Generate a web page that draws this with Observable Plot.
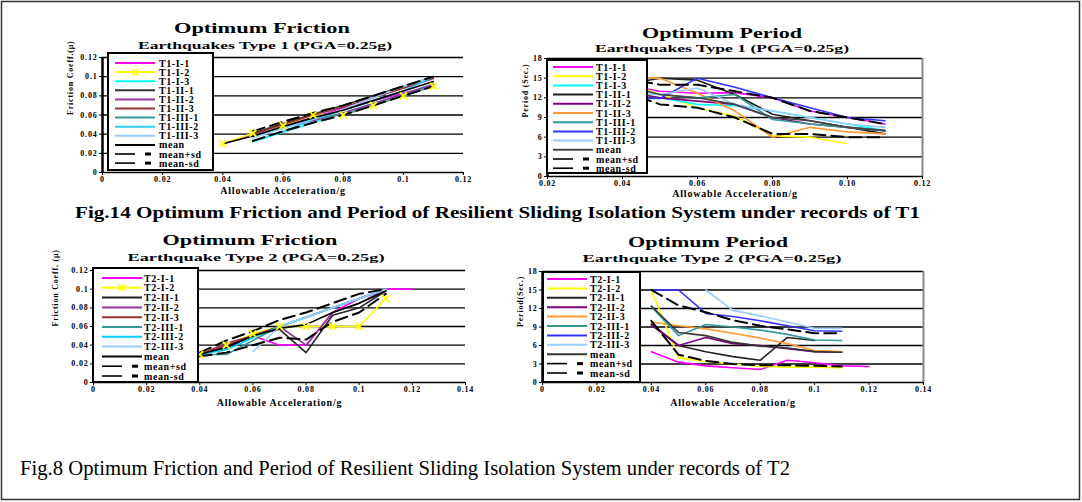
<!DOCTYPE html>
<html><head><meta charset="utf-8">
<script src="https://cdn.jsdelivr.net/npm/d3@7"></script>
<script src="https://cdn.jsdelivr.net/npm/@observablehq/plot@0.6"></script>
<style>
body{margin:0;background:#fff;}
#fig{position:relative;width:1082px;height:502px;background:#fff;overflow:hidden;}
#fig svg{position:absolute;}
</style></head>
<body><div id="fig"></div>
<script>
// ---------- data ----------
const accelT1 = [0.04,0.05,0.06,0.07,0.08,0.09,0.10,0.11];
const accelT2 = [0.04,0.05,0.06,0.07,0.08,0.09,0.10,0.11,0.12];

const t1Names = ["T1-I-1","T1-I-2","T1-I-3","T1-II-1","T1-II-2","T1-II-3","T1-III-1","T1-III-2","T1-III-3","mean","mean+sd","mean-sd"];
const t2Names = ["T2-I-1","T2-I-2","T2-II-1","T2-II-2","T2-II-3","T2-III-1","T2-III-2","T2-III-3","mean","mean+sd","mean-sd"];

const t1FrictionColors = ["#ff00ff","#ffff00","#00ffff","#333333","#993399","#993333","#339999","#33ccff","#99ccff","#000000","#000000","#000000"];
const t1PeriodColors   = ["#ff00ff","#ffff00","#00ffff","#222222","#800080","#ff9933","#339999","#3333ff","#99ccff","#444444","#000000","#000000"];
const t2FrictionColors = ["#ff00ff","#ffff00","#222222","#993399","#993333","#339999","#00ccff","#99ccff","#000000","#000000","#000000"];
const t2PeriodColors   = ["#ff00ff","#ffff00","#222222","#800080","#ff9933","#339999","#3333ff","#99ccff","#333333","#000000","#000000"];

const t1FrictionVals = [
  [0.030,0.040,0.050,0.057,0.067,0.075,0.083,0.090],
  [0.030,0.041,0.049,0.060,0.060,0.070,0.080,0.090],
  [null ,0.032,0.042,0.052,0.062,0.072,0.082,0.092],
  [null ,0.041,0.051,0.061,0.070,0.080,0.090,0.100],
  [null ,0.038,0.047,0.054,0.062,0.072,0.082,0.092],
  [null ,0.040,0.050,0.060,0.068,0.078,0.088,0.098],
  [null ,0.037,0.047,0.057,0.060,0.070,0.080,0.090],
  [null ,0.033,0.043,0.055,0.065,0.075,0.085,0.100],
  [null ,0.036,0.046,0.056,0.066,0.078,0.090,0.100],
  [0.030,0.038,0.048,0.057,0.065,0.075,0.085,0.095],
  [null ,0.043,0.053,0.062,0.070,0.080,0.090,0.100],
  [null ,0.033,0.043,0.052,0.060,0.070,0.080,0.090]
];
const t1PeriodVals = [
  [14,13,12.7,12.8,12,10,9,8],
  [14.5,12.5,10.5,9.2,6.2,6,5,null],
  [13,12,11,10.8,10,9,8,7],
  [14,15,14.7,12.5,9.5,8.5,7.5,6.5],
  [13,12,11.5,11,9,8,7.5,7],
  [15,15,12.7,10,6,7.5,6.8,6.5],
  [13,12.5,12,12.5,8.7,8,7.5,7],
  [12,11.9,15,13.6,12,10.5,9,8.5],
  [13,12.5,13.5,11,10,9,8,7.5],
  [14,12.5,12,11,9,8.5,7.5,7],
  [15,14,14,13,12,10,9,8],
  [13,11,10.5,9,6.5,6.5,6,6]
];
const t2FrictionVals = [
  [0.030,0.040,0.050,0.040,0.040,0.075,0.090,0.100,0.100],
  [0.030,0.040,0.052,0.060,0.060,0.060,0.060,0.090,null],
  [0.030,0.037,0.050,0.057,0.032,0.072,0.080,0.098,null],
  [0.030,0.040,0.050,0.060,0.040,0.075,0.085,0.100,null],
  [0.030,0.042,0.050,0.060,0.070,0.080,0.090,0.100,null],
  [0.030,0.030,0.045,0.060,0.070,0.080,0.090,0.100,null],
  [0.030,0.035,0.048,0.060,0.070,0.080,0.090,0.100,null],
  [null ,null ,0.033,0.060,0.070,0.080,0.090,0.100,null],
  [0.030,0.038,0.050,0.058,0.062,0.075,0.085,0.098,null],
  [0.032,0.045,0.055,0.067,0.075,0.085,0.095,0.100,null],
  [0.028,0.032,0.040,0.048,0.046,0.065,0.075,0.095,null]
];
const t2PeriodVals = [
  [5,3.3,2.7,2.4,2.1,3.6,3.2,2.7,2.6],
  [15,4,3.4,3,2.6,2.5,2.5,2.4,null],
  [9.5,6,5,4.2,3.6,7.3,6.8,null,null],
  [9.3,6,7.3,6.3,6,5.5,5,4.9,null],
  [9.8,9.2,8.7,8,7.2,6.3,5.2,5,null],
  [12.3,7.6,9.4,9,8.5,7.8,6.9,6.8,null],
  [15,15,11.2,10.7,10,9.2,8.4,8.3,null],
  [null,null,15,11.7,10.8,9.8,8.8,8.8,null],
  [12.4,8.1,7.6,6.5,5.9,5.6,5,4.9,null],
  [15,12.5,11.4,10.1,9.2,8.6,8,8,null],
  [10,4.5,3.5,3,2.8,2.8,2.7,2.6,null]
];

const frictionTicks = [0,0.02,0.04,0.06,0.08,0.10,0.12];
const periodTicks = [0,3,6,9,12,15,18];
const accelTicksT1F = [0,0.02,0.04,0.06,0.08,0.10,0.12];
const accelTicksT1P = [0.02,0.04,0.06,0.08,0.10,0.12];
const accelTicksT2 = [0,0.02,0.04,0.06,0.08,0.10,0.12,0.14];

const xTitle = "Allowable Acceleration/g";
const captionT1 = "Fig.14 Optimum Friction and Period of Resilient Sliding Isolation System under records of T1";
const captionT2 = "Fig.8 Optimum Friction and Period of Resilient Sliding Isolation System under records of T2";

// ---------- helpers ----------
const FONT = "'Liberation Serif', 'Times New Roman', serif";
const gen = d => d === 0 ? "0" : String(+d.toFixed(2));
const fix2 = d => d.toFixed(2);
const isDash = n => n.startsWith("mean+") || n.startsWith("mean-");

function makeChart(c) {
  const rows = [];
  c.names.forEach((name, i) => c.values[i].forEach((v, j) => {
    if (v != null) rows.push({x: c.xs[j], y: v, series: name, idx: i});
  }));
  const marks = [
    Plot.ruleY(c.yTicks.filter(t => t > c.yDomain[0]), {stroke: "#000", strokeWidth: 1.3})
  ];
  if (c.rightBorder) marks.push(Plot.ruleX([c.xDomain[1]], {stroke: "#888", strokeWidth: 2}));
  c.names.forEach((name, i) => {
    marks.push(Plot.line(rows.filter(d => d.idx === i), {
      x: "x", y: "y", stroke: c.colors[i],
      strokeWidth: isDash(name) ? 2 : 1.6,
      strokeDasharray: isDash(name) ? "12,6" : null
    }));
  });
  if (c.markerIdx != null) {
    marks.push(Plot.dot(rows.filter(d => d.idx === c.markerIdx), {
      x: "x", y: "y", symbol: "times", r: 3.2, stroke: c.colors[c.markerIdx], strokeWidth: 2
    }));
  }
  marks.push(Plot.ruleX([c.xDomain[0]], {stroke: "#000", strokeWidth: 2.5}));
  marks.push(Plot.ruleY([c.yDomain[0]], {stroke: "#000", strokeWidth: 1.6}));
  marks.push(Plot.text([xTitle], {frameAnchor: "bottom", dy: c.xTitleDy, text: d => d, fontSize: 10, fontWeight: "bold"}));
  marks.push(Plot.text([c.yTitle], {frameAnchor: "left", dx: c.yTitleDx, rotate: -90, text: d => d, fontSize: 8, fontWeight: "bold"}));
  const svg = Plot.plot({
    width: c.width, height: c.height,
    marginLeft: c.ml, marginRight: c.mr, marginTop: c.mt, marginBottom: c.mb,
    style: {fontFamily: FONT, fontWeight: "bold", fontSize: "8px", color: "#000", background: "transparent", letterSpacing: "0.8px", overflow: "visible"},
    x: {domain: c.xDomain, ticks: c.xTicks, tickFormat: c.xFmt, tickSize: 3, tickPadding: 1, label: null},
    y: {domain: c.yDomain, ticks: c.yTicks, tickFormat: c.yFmt, tickSize: 3, tickPadding: 2, label: null},
    marks
  });
  svg.style.left = c.left + "px";
  svg.style.top = c.top + "px";
  document.getElementById("fig").appendChild(svg);
}

makeChart({left: 0, top: 0, width: 500, height: 225, ml: 102, mr: 37, mt: 57, mb: 53,
  xs: accelT1, names: t1Names, values: t1FrictionVals, colors: t1FrictionColors, markerIdx: 1,
  xDomain: [0, 0.12], xTicks: accelTicksT1F, xFmt: gen, yDomain: [0, 0.12], yTicks: frictionTicks, yFmt: gen,
  yTitle: "Friction Coeff.(μ)", yTitleDx: -32, xTitleDy: 21});
makeChart({left: 500, top: 0, width: 560, height: 225, ml: 47, mr: 138, mt: 58, mb: 49, rightBorder: true,
  xs: accelT1, names: t1Names, values: t1PeriodVals, colors: t1PeriodColors,
  xDomain: [0.02, 0.12], xTicks: accelTicksT1P, xFmt: fix2, yDomain: [0, 18], yTicks: periodTicks, yFmt: d => String(d),
  yTitle: "Period (Sec.)", yTitleDx: -22, xTitleDy: 20});
makeChart({left: 0, top: 225, width: 500, height: 200, ml: 93, mr: 35, mt: 45, mb: 43,
  xs: accelT2, names: t2Names, values: t2FrictionVals, colors: t2FrictionColors, markerIdx: 1,
  xDomain: [0, 0.14], xTicks: accelTicksT2, xFmt: gen, yDomain: [0, 0.12], yTicks: frictionTicks, yFmt: gen,
  yTitle: "Friction Coeff. (μ)", yTitleDx: -38, xTitleDy: 23});
makeChart({left: 500, top: 225, width: 560, height: 200, ml: 42, mr: 137, mt: 46, mb: 43, rightBorder: true,
  xs: accelT2, names: t2Names, values: t2PeriodVals, colors: t2PeriodColors,
  xDomain: [0, 0.14], xTicks: accelTicksT2, xFmt: gen, yDomain: [0, 18], yTicks: periodTicks, yFmt: d => String(d),
  yTitle: "Period(Sec.)", yTitleDx: -22, xTitleDy: 23});

// ---------- overlay: legends, titles, captions, frame ----------
const ov = d3.select("#fig").append("svg")
  .attr("width", 1082).attr("height", 502)
  .style("left", "0px").style("top", "0px")
  .style("font-family", FONT);

ov.append("rect").attr("x", 1.5).attr("y", 1.5).attr("width", 1078).attr("height", 498)
  .attr("fill", "none").attr("stroke", "#333").attr("stroke-width", 1.5);

function legend(L) {
  const g = ov.append("g");
  g.append("rect").attr("x", L.x).attr("y", L.y).attr("width", L.w).attr("height", L.h)
    .attr("fill", "#fff").attr("stroke", "#000").attr("stroke-width", 2);
  L.names.forEach((name, i) => {
    const y = L.y0 + i * L.dy;
    if (isDash(name)) {
      g.append("line").attr("x1", L.sx0).attr("x2", L.sx0 + 20).attr("y1", y).attr("y2", y)
        .attr("stroke", "#000").attr("stroke-width", 1.6);
      g.append("line").attr("x1", L.sx0 + 30).attr("x2", L.sx0 + 36).attr("y1", y).attr("y2", y)
        .attr("stroke", "#000").attr("stroke-width", 3);
    } else {
      g.append("line").attr("x1", L.sx0).attr("x2", L.sx1).attr("y1", y).attr("y2", y)
        .attr("stroke", L.colors[i]).attr("stroke-width", 2);
      if (i === L.markerIdx) {
        const cx = (L.sx0 + L.sx1) / 2;
        g.append("path").attr("d", `M${cx-3},${y-3}L${cx+3},${y+3}M${cx-3},${y+3}L${cx+3},${y-3}`)
          .attr("stroke", L.colors[i]).attr("stroke-width", 2);
      }
    }
    g.append("text").attr("x", L.lx).attr("y", y).attr("dy", "0.35em")
      .attr("font-size", 10).attr("font-weight", "bold").attr("letter-spacing", "0.6px")
      .text(name);
  });
}
legend({x: 108, y: 53, w: 105, h: 117, y0: 63, dy: 9.1, sx0: 115, sx1: 155, lx: 159, names: t1Names, colors: t1FrictionColors, markerIdx: 1});
legend({x: 547, y: 60, w: 100, h: 113, y0: 67, dy: 9.2, sx0: 553, sx1: 593, lx: 596, names: t1Names, colors: t1PeriodColors});
legend({x: 93, y: 268, w: 105, h: 114, y0: 278, dy: 9.8, sx0: 102, sx1: 142, lx: 144, names: t2Names, colors: t2FrictionColors, markerIdx: 1});
legend({x: 543, y: 272, w: 97, h: 110, y0: 279, dy: 9.4, sx0: 547, sx1: 587, lx: 590, names: t2Names, colors: t2PeriodColors});

function title(txt, cx, cy, size, len) {
  ov.append("text").attr("x", cx - len / 2).attr("y", cy).attr("dy", "0.35em")
    .attr("font-size", size).attr("font-weight", "bold")
    .attr("textLength", len).attr("lengthAdjust", "spacingAndGlyphs").text(txt);
}
title("Optimum Friction", 262, 28, 15, 176);
title("Earthquakes Type 1 (PGA=0.25g)", 265, 45, 11, 254);
title("Optimum Period", 722, 33, 15, 160);
title("Earthquakes Type 1 (PGA=0.25g)", 722, 48, 11, 254);
title("Optimum Friction", 250, 240, 15, 175);
title("Earthquake Type 2 (PGA=0.25g)", 256, 257, 11, 257);
title("Optimum Period", 708, 242, 15, 160);
title("Earthquake Type 2 (PGA=0.25g)", 712, 258, 11, 259);

ov.append("text").attr("x", 75).attr("y", 212).attr("dy", "0.35em")
  .attr("font-size", 17).attr("font-weight", "bold")
  .attr("textLength", 845).attr("lengthAdjust", "spacingAndGlyphs").text(captionT1);
ov.append("text").attr("x", 20).attr("y", 468).attr("dy", "0.35em")
  .attr("font-size", 20).attr("textLength", 770).attr("lengthAdjust", "spacingAndGlyphs").text(captionT2);
</script></body></html>
